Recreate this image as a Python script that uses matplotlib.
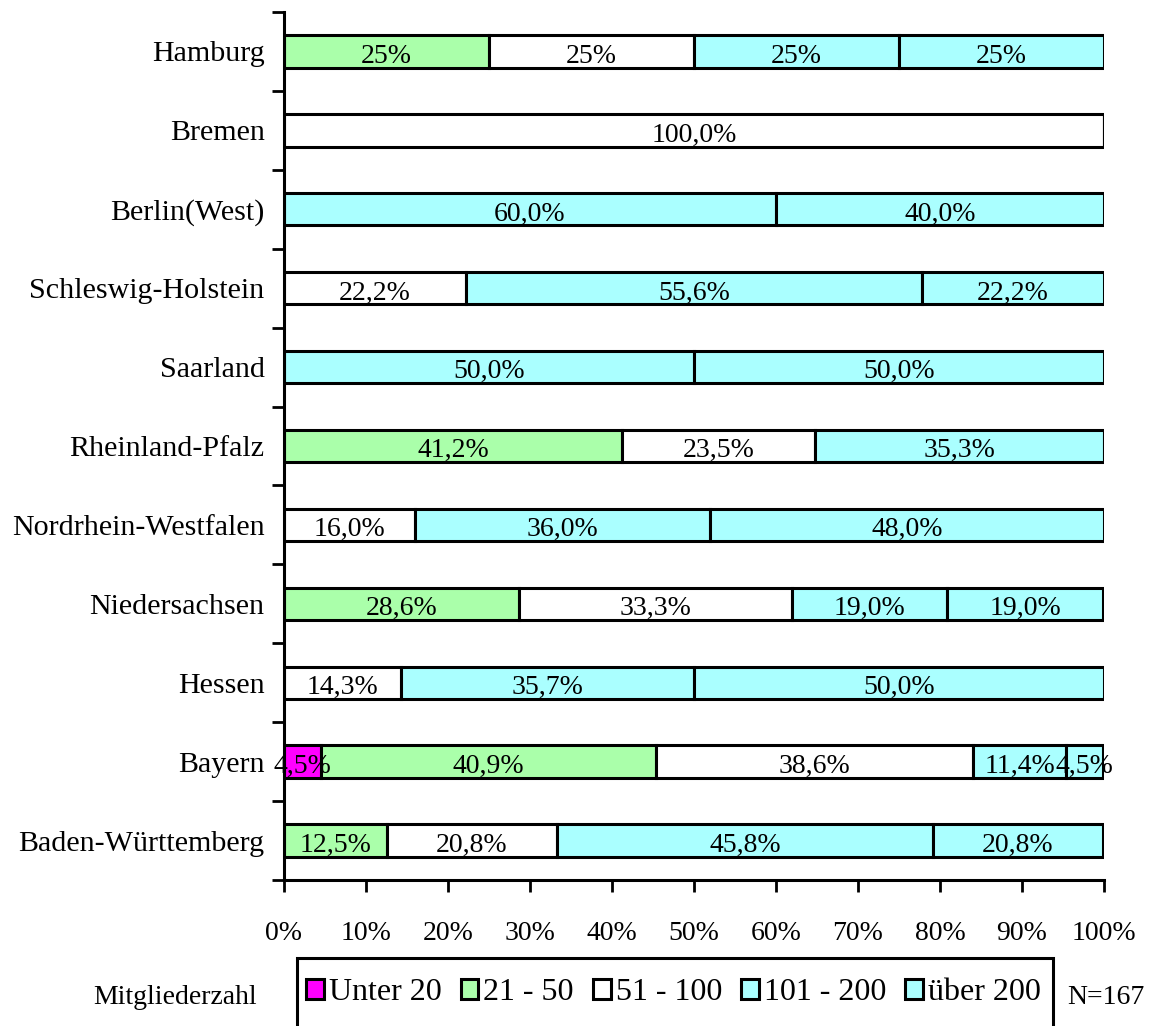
import numpy as np
import matplotlib.pyplot as plt
from matplotlib.patches import Patch, Rectangle

plt.rcParams['font.family'] = ['Liberation Serif', 'DejaVu Serif']

# categories from bottom to top
laender = ["Baden-Württemberg", "Bayern", "Hessen", "Niedersachsen",
           "Nordrhein-Westfalen", "Rheinland-Pfalz", "Saarland",
           "Schleswig-Holstein", "Berlin(West)", "Bremen", "Hamburg"]

serien = ["Unter 20", "21 - 50", "51 - 100", "101 - 200", "über 200"]

unter_20 = [0, 4.5, 0, 0, 0, 0, 0, 0, 0, 0, 0]
bis_50 = [12.5, 40.9, 0, 28.6, 0, 41.2, 0, 0, 0, 0, 25]
bis_100 = [20.8, 38.6, 14.3, 33.3, 16.0, 23.5, 0, 22.2, 0, 100.0, 25]
bis_200 = [45.8, 11.4, 35.7, 19.0, 36.0, 35.3, 50.0, 55.6, 60.0, 0, 25]
ueber_200 = [20.8, 4.5, 50.0, 19.0, 48.0, 0, 50.0, 22.2, 40.0, 0, 25]

# decimals shown in the data labels per category
dezimalen = [1, 1, 1, 1, 1, 1, 1, 1, 1, 1, 0]

farben = ["#ff00ff", "#aaffaa", "#ffffff", "#aaffff", "#aaffff"]

werte = np.array([unter_20, bis_50, bis_100, bis_200, ueber_200])

W, H = 1154, 1026
fig = plt.figure(figsize=(W / 100, H / 100), dpi=100)
ax = fig.add_axes([284 / W, 1 - 880 / H, 820 / W, 868 / H])

y = np.arange(len(laender))
links = np.zeros(len(laender))
for i, name in enumerate(serien):
    w = werte[i]
    ax.barh(y, w, left=links, height=0.41, color=farben[i],
            edgecolor="black", linewidth=2.2, label=name)
    for j in range(len(laender)):
        if w[j] > 0:
            if dezimalen[j] == 0:
                txt = "%d%%" % round(w[j])
            else:
                txt = ("%.1f%%" % w[j]).replace(".", ",")
            ax.text(links[j] + w[j] / 2, y[j] - 0.06, txt, ha="center",
                    va="center", fontsize=20)
    links += w

ax.set_xlim(0, 100)
ax.set_ylim(-0.5, len(laender) - 0.5)

ax.set_xticks(np.arange(0, 101, 10))
ax.set_xticklabels(["%d%%" % v for v in range(0, 101, 10)], fontsize=20)
ax.tick_params(axis="x", direction="out", length=8.6, width=2, pad=21)

ax.set_yticks(y)
ax.set_yticklabels(laender, fontsize=21.6)
ax.tick_params(axis="y", which="major", length=0, pad=14)
ax.set_yticks(np.arange(-0.5, len(laender), 1), minor=True)
ax.tick_params(axis="y", which="minor", direction="out", length=8.6, width=2)

for s in ["top", "right"]:
    ax.spines[s].set_visible(False)
for s in ["left", "bottom"]:
    ax.spines[s].set_linewidth(2.2)

# legend box, runs off the bottom edge like in the original
fig.add_artist(Rectangle((297 / W, 1 - 1045 / H), 756 / W, 87 / H,
                         transform=fig.transFigure, facecolor="none",
                         edgecolor="black", linewidth=2.2))

handles = [Patch(facecolor=farben[i], edgecolor="black", linewidth=2.2,
                 label=serien[i]) for i in range(len(serien))]
fig.legend(handles=handles, ncol=5, loc="center left",
           bbox_to_anchor=(306 / W, 1 - 993 / H), fontsize=23,
           handlelength=0.56, handleheight=0.56, handletextpad=0.15,
           columnspacing=0.6, borderpad=0, borderaxespad=0, frameon=False)

fig.text(175 / W, 1 - 998 / H, "Mitgliederzahl", ha="center",
         va="center", fontsize=20)
fig.text(1106 / W, 1 - 997 / H, "N=167", ha="center", va="center",
         fontsize=20)

fig.savefig("out.png", dpi=100)
